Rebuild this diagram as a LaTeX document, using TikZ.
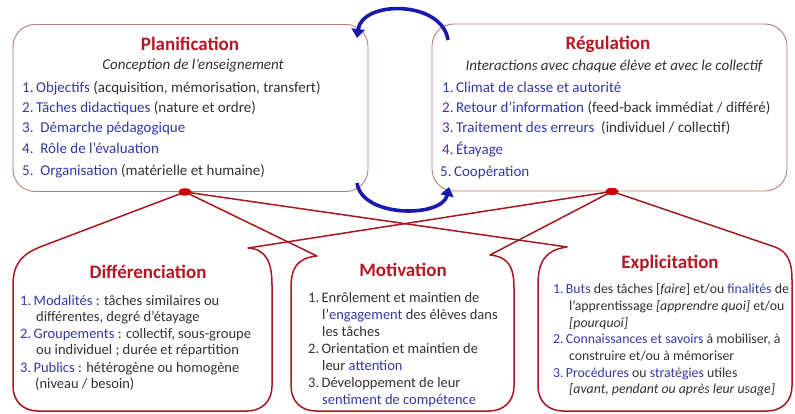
\documentclass[tikz,border=0pt]{standalone}
\usepackage{fontspec}
\setmainfont{Carlito}
\usetikzlibrary{arrows.meta,shapes.geometric}
\definecolor{tred}{RGB}{180,25,35}
\definecolor{tblue}{RGB}{55,55,165}
\definecolor{tgray}{RGB}{50,50,50}
\definecolor{boxline}{RGB}{185,125,120}
\definecolor{cred}{RGB}{165,25,30}
\definecolor{dotred}{RGB}{205,0,0}
\definecolor{arrblue}{RGB}{25,25,175}
\newcommand{\bl}[1]{\textcolor{tblue}{#1}}
\begin{document}
\begin{tikzpicture}[x=1pt,y=-1pt,
  topbox/.style={draw=boxline,line width=0.9pt,rounded corners=22pt,minimum width=355pt,minimum height=167pt,inner sep=0pt},
  dotnode/.style={ellipse,fill=dotred,draw=none,minimum width=13pt,minimum height=7pt,inner sep=0pt},
  callout/.style={draw=cred,line width=1.5pt,line join=round},
  cyc/.style={draw=arrblue,line width=3.6pt,-{Triangle[length=9pt,width=13pt]}},
  ttl/.style={anchor=base,inner sep=0pt,text=tred,font=\fontsize{19}{22}\selectfont\bfseries},
  sub/.style={anchor=base,inner sep=0pt,text=tgray,font=\fontsize{15}{18}\selectfont\itshape},
  tx/.style={anchor=base west,inner sep=0pt,text=tgray,font=\fontsize{15}{18}\selectfont},
  bt/.style={anchor=base west,inner sep=0pt,text=tgray,font=\fontsize{14.5}{17}\selectfont},
  et/.style={anchor=base west,inner sep=0pt,text=tgray,font=\fontsize{13.8}{17}\selectfont}]
\useasboundingbox (0,0) rectangle (795,414);
\fill[white] (0,0) rectangle (795,414);

% top boxes
\node[topbox] (plan) at (190.5,108) {};
\node[topbox] (reg) at (609.5,107.5) {};

% dots and attachment points
\node[dotnode] (P) at ([xshift=-5.5pt]plan.south) {};
\node[dotnode] (R) at ([xshift=2.5pt]reg.south) {};
\coordinate (dTL) at (40,247);
\coordinate (dTR) at (248,248);
\coordinate (mTL) at (317,256);
\coordinate (mTR) at (490,255);
\coordinate (eTL) at (567,247);
\coordinate (eTR) at (775,247);

% bottom callout boxes hanging from both dots
\draw[callout] (P.center) -- (dTL) .. controls (20,255) and (13,266) .. (13,285) -- (13,386)
  .. controls (13,401) and (23,411) .. (38,411) -- (247,411)
  .. controls (262,411) and (272,401) .. (272,386) -- (272,285)
  .. controls (272,262) and (266,249) .. (dTR) -- (R.center);
\draw[callout] (P.center) -- (mTL) .. controls (297,258) and (291,268) .. (291,288) -- (291,386)
  .. controls (291,401) and (301,411) .. (316,411) -- (489,411)
  .. controls (504,411) and (514,401) .. (514,386) -- (514,288)
  .. controls (514,266) and (508,257) .. (mTR) -- (R.center);
\draw[callout] (P.center) -- (eTL) .. controls (545,250) and (538,262) .. (538,285) -- (538,386)
  .. controls (538,401) and (548,411) .. (563,411) -- (767,411)
  .. controls (782,411) and (792,401) .. (792,386) -- (792,280)
  .. controls (792,262) and (788,252) .. (eTR) -- (R.center);
\node[dotnode] at (P) {};
\node[dotnode] at (R) {};

% cycle arrows
\coordinate (ta1) at (448,40);
\coordinate (ta2) at (357,38);
\coordinate (ba1) at (357,183);
\coordinate (ba2) at (449,187);
\draw[cyc] (ta1) .. controls (442,0) and (362,0) .. (ta2);
\draw[cyc] (ba1) .. controls (362,218) and (442,218) .. (ba2);

% Planification
\node[ttl] (p0) at (190,51) {Planification};
\node[sub] (ps) at (193,70) {Conception de l’enseignement};
\node[tx] (p1) at (22,93) {\bl{1.\,Objectifs} (acquisition, mémorisation, transfert)};
\node[tx] (p2) at (22,113) {\bl{2.\,Tâches didactiques} (nature et ordre)};
\node[tx] (p3) at (22,133) {\bl{3.\ \ Démarche pédagogique}};
\node[tx] (p4) at (22,154) {\bl{4.\ \ Rôle de l’évaluation}};
\node[tx] (p5) at (22,176) {\bl{5.\ \ Organisation} (matérielle et humaine)};

% Regulation
\node[ttl] (r0) at (608,50) {Régulation};
\node[sub] (rs) at (614,71) {Interactions avec chaque élève et avec le collectif};
\node[tx] (r1) at (442,93) {\bl{1.\,Climat de classe et autorité}};
\node[tx] (r2) at (442,113) {\bl{2.\,Retour d’information} (feed-back immédiat / différé)};
\node[tx] (r3) at (442,133) {\bl{3.\,Traitement des erreurs}\ \ (individuel / collectif)};
\node[tx] (r4) at (442,155) {\bl{4.\,Étayage}};
\node[tx] (r5) at (440,177) {\bl{5.\,Coopération}};

% Differenciation
\node[ttl] (d0) at (148,278) {Différenciation};
\node[bt] (d1) at (20,305) {\bl{1.\,Modalités} : tâches similaires ou};
\node[bt] (d1b) at (36,321) {différentes, degré d’étayage};
\node[bt] (d2) at (20,338) {\bl{2.\,Groupements} : collectif, sous-groupe};
\node[bt] (d2b) at (36,354) {ou individuel ; durée et répartition};
\node[bt] (d3) at (20,372) {\bl{3.\,Publics} : hétérogène ou homogène};
\node[bt] (d3b) at (35,388) {(niveau / besoin)};

% Motivation
\node[ttl] (m0) at (403,276) {Motivation};
\node[bt] (m1) at (308,302) {1.\,Enrôlement et maintien de};
\node[bt] (m1b) at (322,319) {l’\bl{engagement} des élèves dans};
\node[bt] (m1c) at (322,336) {les tâches};
\node[bt] (m2) at (308,353) {2.\,Orientation et maintien de};
\node[bt] (m2b) at (322,370) {leur \bl{attention}};
\node[bt] (m3) at (308,387) {3.\,Développement de leur};
\node[bt] (m3b) at (322,404) {\bl{sentiment de compétence}};

% Explicitation
\node[ttl] (e0) at (670,269) {Explicitation};
\node[et] (e1) at (553,293) {\bl{1.\,Buts} des tâches [\textit{faire}] et/ou \bl{finalités} de};
\node[et] (e1b) at (569,310) {l’apprentissage \textit{[apprendre quoi]} et/ou};
\node[et] (e1c) at (569,327) {\textit{[pourquoi]}};
\node[et] (e2) at (553,343) {\bl{2.\,Connaissances et savoirs} à mobiliser, à};
\node[et] (e2b) at (569,360) {construire et/ou à mémoriser};
\node[et] (e3) at (553,377) {\bl{3.\,Procédures} ou \bl{stratégies} utiles};
\node[et] (e3b) at (569,393) {\textit{[avant, pendant ou après leur usage]}};
\end{tikzpicture}
\end{document}
